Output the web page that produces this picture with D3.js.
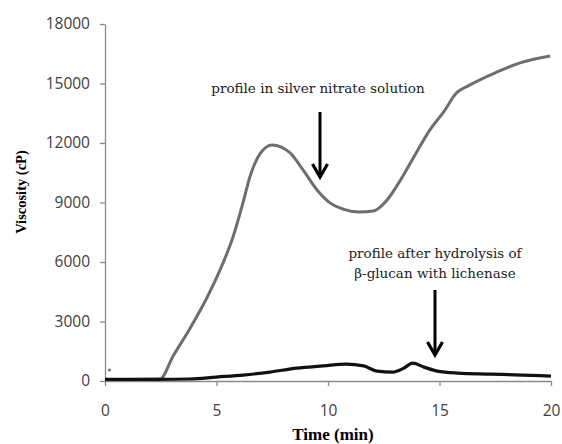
<!DOCTYPE html>
<html>
<head>
<meta charset="utf-8">
<script src="https://cdn.jsdelivr.net/npm/d3@7"></script>
<style>
  body { margin: 0; background: #fff; }
  .tick text { font-family: "Open Sans", "Liberation Sans", sans-serif; font-size: 15.5px; fill: #404040; }
  .axis path, .axis line { stroke: #8a8a8a; stroke-width: 1.3; }
</style>
</head>
<body>
<svg id="chart"></svg>
<script>
// silver nitrate profile (grey)
const timeSilver = [0, 1, 2, 2.47, 3.05, 3.81, 4.57, 5.16, 5.74, 6.19, 6.5, 6.95, 7.49, 8.3, 8.88, 9.51, 10.09, 10.67, 11.43, 12.02, 12.65, 13.15, 13.7, 14.57, 15.25, 15.7, 16.37, 17.58, 18.61, 19.96];
const viscSilver = [80, 80, 90, 100, 1250, 2650, 4200, 5600, 7260, 9000, 10300, 11450, 11900, 11500, 10640, 9630, 8980, 8670, 8520, 8570, 9130, 9950, 11000, 12660, 13670, 14450, 14930, 15580, 16040, 16390];
// stray first reading
const strayPoint = [0.2, 550];

// lichenase profile (black)
const timeLichenase = [0, 1, 2.33, 3.8, 5.0, 6.2, 7.4, 8.6, 9.8, 10.8, 11.6, 12.2, 12.9, 13.4, 13.8, 14.3, 14.9, 15.8, 17.3, 18.7, 20];
const viscLichenase = [80, 80, 80, 100, 200, 300, 450, 650, 760, 850, 760, 500, 450, 650, 900, 700, 500, 400, 350, 300, 250];

const xTicks = [0, 5, 10, 15, 20];
const yTicks = [0, 3000, 6000, 9000, 12000, 15000, 18000];

const width = 562, height = 444;

const svg = d3.select('#chart')
    .attr('width', width)
    .attr('height', height);

const x = d3.scaleLinear().domain([0, 20]).range([105, 551]);
const y = d3.scaleLinear().domain([0, 18000]).range([381, 24]);

svg.append('g')
    .attr('class', 'axis')
    .attr('transform', 'translate(0,' + y(0) + ')')
    .call(d3.axisBottom(x).tickValues(xTicks).tickFormat(d3.format('d')).tickSize(5).tickSizeOuter(0).tickPadding(19));

svg.append('g')
    .attr('class', 'axis')
    .attr('transform', 'translate(' + x(0) + ',0)')
    .call(d3.axisLeft(y).tickValues(yTicks).tickFormat(d3.format('d')).tickSize(5).tickSizeOuter(0).tickPadding(10));

let line = d3.line()
    .x(d => x(d[0]))
    .y(d => y(d[1]))
    .curve(d3.curveMonotoneX);

svg.append('path')
    .datum(timeSilver.map((t, i) => [t, viscSilver[i]]))
    .attr('d', line)
    .attr('fill', 'none')
    .attr('stroke', '#6e6e6e')
    .attr('stroke-width', 3);

svg.append('circle')
    .attr('cx', x(strayPoint[0]))
    .attr('cy', y(strayPoint[1]))
    .attr('r', 1.5)
    .attr('fill', '#6e6e6e');

svg.append('path')
    .datum(timeLichenase.map((t, i) => [t, viscLichenase[i]]))
    .attr('d', line)
    .attr('fill', 'none')
    .attr('stroke', '#111')
    .attr('stroke-width', 3.2);

// axis titles
svg.append('text')
    .attr('x', 333)
    .attr('y', 440)
    .attr('text-anchor', 'middle')
    .style('font-family', '"Liberation Serif", serif')
    .style('font-weight', 'bold')
    .style('font-size', '17px')
    .text('Time (min)');

svg.append('text')
    .attr('transform', 'translate(26,192) rotate(-90)')
    .attr('text-anchor', 'middle')
    .style('font-family', '"Liberation Serif", serif')
    .style('font-weight', 'bold')
    .style('font-size', '14.5px')
    .text('Viscosity (cP)');

// annotations
function note(lines, cx, baseline) {
    lines.forEach(function (s, i) {
        svg.append('text')
            .attr('x', cx)
            .attr('y', baseline + i * 20)
            .attr('text-anchor', 'middle')
            .style('font-family', '"DejaVu Serif", serif')
            .style('font-size', '13.5px')
            .style('fill', '#222')
            .text(s);
    });
}

function arrow(px, y1, y2) {
    svg.append('line')
        .attr('x1', px).attr('x2', px)
        .attr('y1', y1).attr('y2', y2 - 2)
        .attr('stroke', '#000').attr('stroke-width', 3);
    svg.append('path')
        .attr('d', 'M' + (px - 7.5) + ',' + (y2 - 13) + 'L' + px + ',' + y2 + 'L' + (px + 7.5) + ',' + (y2 - 13))
        .attr('fill', 'none')
        .attr('stroke', '#000')
        .attr('stroke-width', 3.2);
}

note(['profile in silver nitrate solution'], 318, 93);
arrow(320, 112, 177);

note(['profile after hydrolysis of', 'β-glucan with lichenase'], 435, 258);
arrow(435, 290, 355);
</script>
</body>
</html>
